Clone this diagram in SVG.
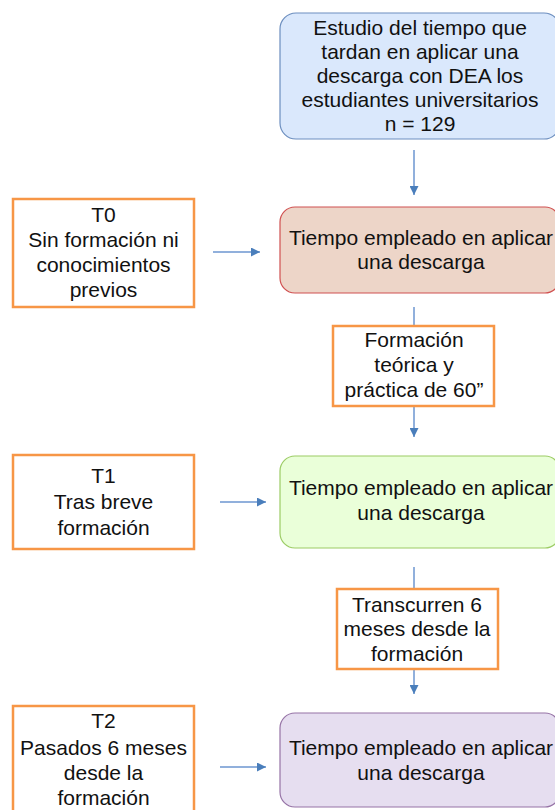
<svg xmlns="http://www.w3.org/2000/svg" width="555" height="810" viewBox="0 0 555 810">
<style>
text{font-family:"Liberation Sans",Arial,Helvetica,sans-serif;font-size:21px;fill:#111;text-anchor:middle}
.orange{fill:#fff;stroke:#f79646;stroke-width:2.5}
.conn{stroke:#6d96d0;stroke-width:1.5;fill:none}
</style>
<defs>
<marker id="ah" markerUnits="userSpaceOnUse" markerWidth="9" markerHeight="9" refX="9" refY="4.5" orient="auto">
<path d="M0,0 L9,4.5 L0,9 z" fill="#4a7ebb"/>
</marker>
</defs>
<g id="connectors">
<line class="conn" x1="414" y1="150" x2="414" y2="195" marker-end="url(#ah)"/>
<line class="conn" x1="414" y1="307" x2="414" y2="326"/>
<line class="conn" x1="414" y1="406" x2="414" y2="437" marker-end="url(#ah)"/>
<line class="conn" x1="414" y1="567" x2="414" y2="589"/>
<line class="conn" x1="414" y1="669" x2="414" y2="694" marker-end="url(#ah)"/>
<line class="conn" x1="213" y1="252" x2="260" y2="252" marker-end="url(#ah)"/>
<line class="conn" x1="220" y1="502" x2="266" y2="502" marker-end="url(#ah)"/>
<line class="conn" x1="220" y1="767" x2="266" y2="767" marker-end="url(#ah)"/>
</g>
<g id="estudio">
<rect x="280" y="13" width="280" height="126" rx="16" fill="#dae8fc" stroke="#6c8ebf" stroke-width="1.2"/>
<text x="420" y="35">Estudio del tiempo que</text>
<text x="420" y="59">tardan en aplicar una</text>
<text x="420" y="83">descarga con DEA los</text>
<text x="420" y="107">estudiantes universitarios</text>
<text x="420" y="131">n = 129</text>
</g>
<g id="tiempo0">
<rect x="280" y="207" width="280" height="86" rx="15" fill="#edd5c8" stroke="#d05050" stroke-width="1.2"/>
<text x="421" y="245">Tiempo empleado en aplicar</text>
<text x="421" y="269">una descarga</text>
</g>
<g id="formacion">
<rect class="orange" x="333" y="326" width="161" height="80"/>
<text x="414" y="347">Formación</text>
<text x="414" y="372">teórica y</text>
<text x="414" y="397">práctica de 60”</text>
</g>
<g id="tiempo1">
<rect x="280" y="456" width="280" height="92" rx="15" fill="#eaffd9" stroke="#9ccc65" stroke-width="1.2"/>
<text x="421" y="495">Tiempo empleado en aplicar</text>
<text x="421" y="520">una descarga</text>
</g>
<g id="transcurren">
<rect class="orange" x="337" y="589" width="161" height="80"/>
<text x="417" y="612">Transcurren 6</text>
<text x="417" y="636">meses desde la</text>
<text x="417" y="661">formación</text>
</g>
<g id="tiempo2">
<rect x="280" y="713" width="280" height="94" rx="15" fill="#e6def0" stroke="#9673a6" stroke-width="1.2"/>
<text x="421" y="755">Tiempo empleado en aplicar</text>
<text x="421" y="780">una descarga</text>
</g>
<g id="t0">
<rect class="orange" x="13" y="199" width="181" height="108"/>
<text x="103.5" y="222">T0</text>
<text x="103.5" y="247">Sin formación ni</text>
<text x="103.5" y="272">conocimientos</text>
<text x="103.5" y="297">previos</text>
</g>
<g id="t1">
<rect class="orange" x="13" y="455" width="181" height="94"/>
<text x="103.5" y="483">T1</text>
<text x="103.5" y="509">Tras breve</text>
<text x="103.5" y="535">formación</text>
</g>
<g id="t2">
<rect class="orange" x="13" y="706" width="181" height="130"/>
<text x="103.5" y="728">T2</text>
<text x="103.5" y="755">Pasados 6 meses</text>
<text x="103.5" y="780">desde la</text>
<text x="103.5" y="805">formación</text>
</g>
</svg>
